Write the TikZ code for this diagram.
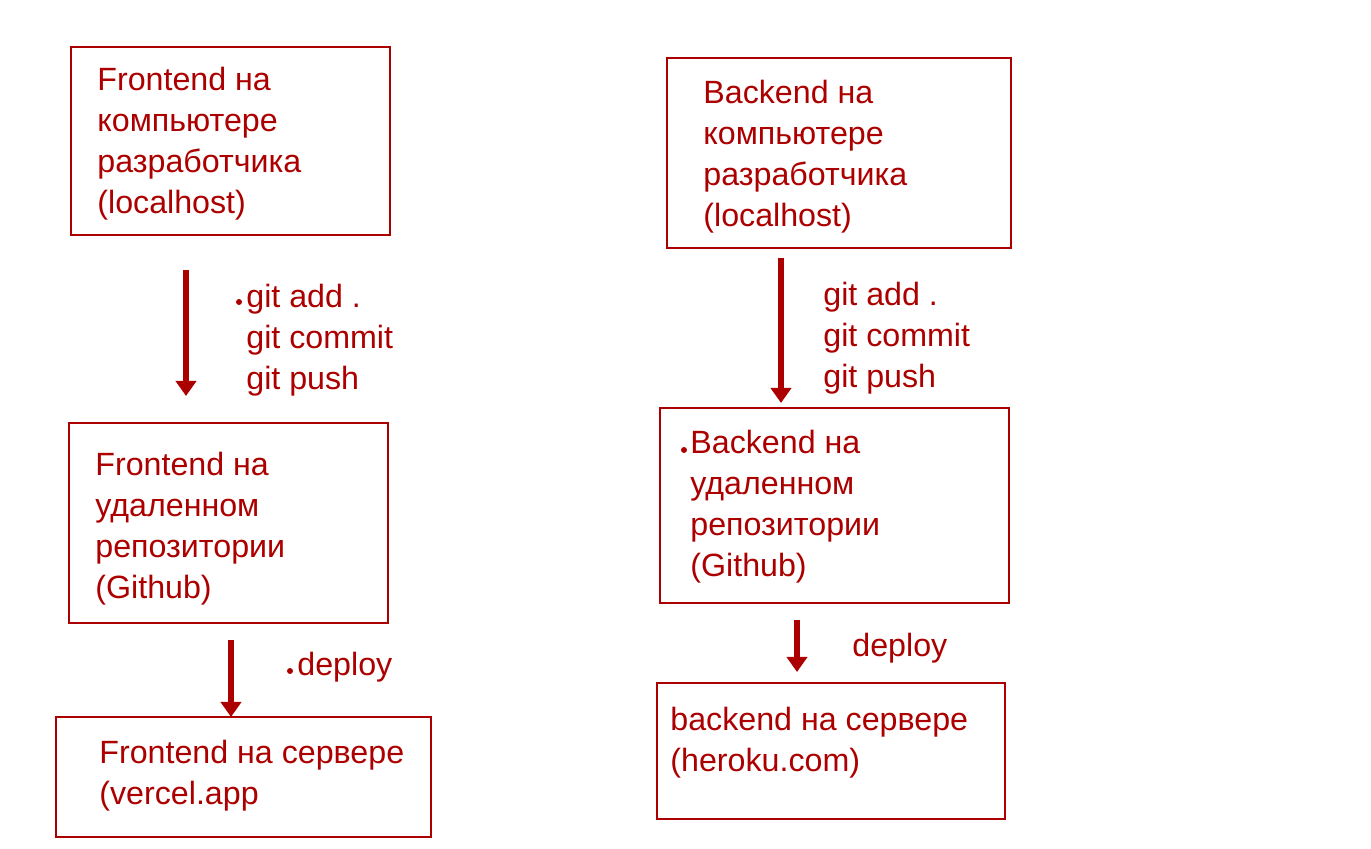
\documentclass[tikz,border=0pt]{standalone}
\usepackage{fontspec}
\setmainfont{Liberation Sans}
\usetikzlibrary{arrows.meta}
\definecolor{deepred}{RGB}{172,0,0}

\begin{document}
\begin{tikzpicture}[x=.5pt,y=-.5pt,
  box/.style={draw=deepred, line width=1pt, inner sep=0pt},
  txt/.style={text=deepred, anchor=west, align=left, inner sep=0pt,
    font=\fontsize{16.1}{20.5}\selectfont},
  push/.style={draw=deepred, line width=2.6pt, -{Triangle[width=10pt,length=7.5pt]}}]
\useasboundingbox (0,0) rectangle (1371,849);

% frontend column
\node[box, minimum width=159.5pt, minimum height=94pt] (fe local) at (230.5,141) {};
\node[txt] (fe local text) at (97,144) {Frontend на\\компьютере\\разработчика\\(localhost)};
\node[box, minimum width=159.5pt, minimum height=100pt] (fe repo) at (228.5,523) {};
\node[txt] (fe repo text) at (95,529) {Frontend на\\удаленном\\репозитории\\(Github)};
\node[box, minimum width=187.5pt, minimum height=60pt] (fe server) at (243.5,777) {};
\node[txt] (fe server text) at (99,776) {Frontend на сервере\\(vercel.app};

% backend column
\node[box, minimum width=172pt, minimum height=95pt] (be local) at (839,153) {};
\node[txt] (be local text) at (703,156.5) {Backend на\\компьютере\\разработчика\\(localhost)};
\node[box, minimum width=174.5pt, minimum height=97.5pt] (be repo) at (834.5,505.5) {};
\node[txt] (be repo text) at (690,506.5) {Backend на\\удаленном\\репозитории\\(Github)};
\node[box, minimum width=174pt, minimum height=68pt] (be server) at (831,751) {};
\node[txt] (be server text) at (670,743) {backend на сервере\\(heroku.com)};

% labels
\node[txt] (fe git) at (246,340.5) {git add .\\git commit\\git push};
\node[txt] (be git) at (823,338.5) {git add .\\git commit\\git push};
\node[txt] (fe deploy) at (297,667) {deploy};
\node[txt] (be deploy) at (852,648) {deploy};

% stray dots
\fill[deepred] (239,302) circle (1.5pt);
\fill[deepred] (684,450) circle (1.5pt);
\fill[deepred] (290,671) circle (1.5pt);

% arrows
\coordinate (fe push top) at (186,270);
\coordinate (fe push end) at (186,396);
\coordinate (fe deploy top) at (231,640);
\coordinate (fe deploy end) at (231,717);
\coordinate (be push top) at (781,258);
\coordinate (be push end) at (781,403);
\coordinate (be deploy top) at (797,620);
\coordinate (be deploy end) at (797,672);
\draw[push] (fe push top) -- (fe push end);
\draw[push] (fe deploy top) -- (fe deploy end);
\draw[push] (be push top) -- (be push end);
\draw[push] (be deploy top) -- (be deploy end);
\end{tikzpicture}
\end{document}
